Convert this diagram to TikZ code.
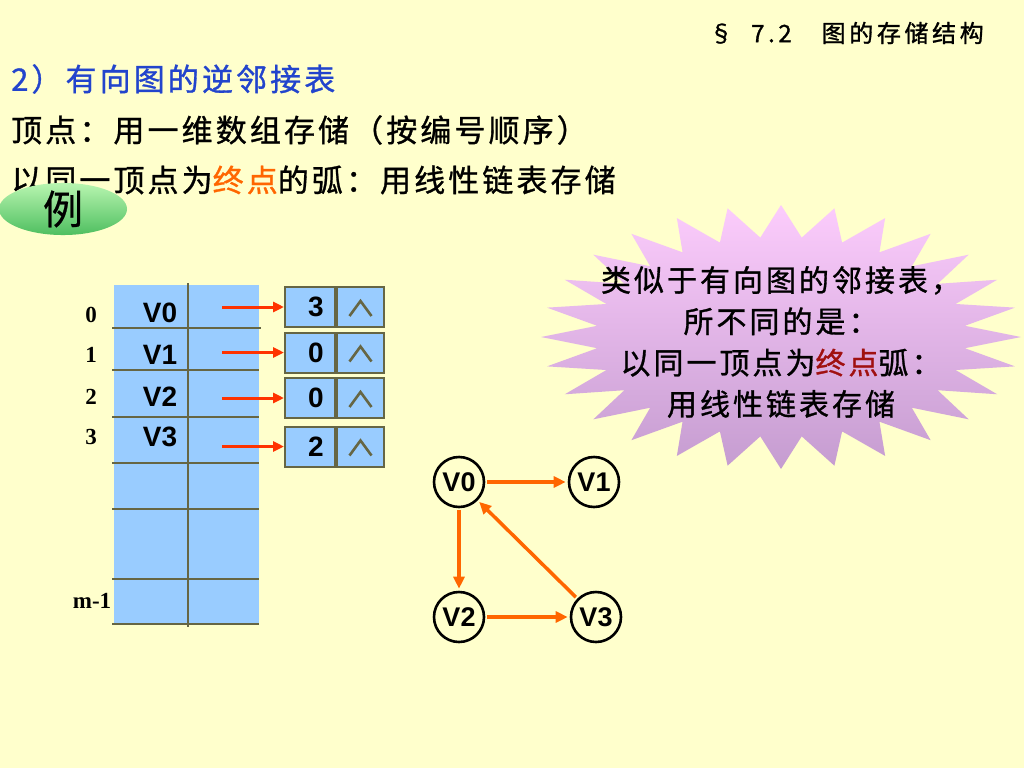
\documentclass[tikz,border=0pt]{standalone}
\usepackage{fontspec}
\setmainfont{Liberation Sans}
\newfontfamily\cjk[LetterSpace=10,FakeBold=1]{Noto Sans CJK SC}
\newfontfamily\cjkh[LetterSpace=15,FakeBold=1.2]{Noto Sans CJK SC}
\newfontfamily\cjkn[FakeBold=0.6]{Noto Sans CJK SC}
\newfontfamily\serifb{Liberation Serif}
\newfontfamily\vfont{Liberation Sans}
\usetikzlibrary{arrows.meta,shapes.geometric}
\definecolor{bg}{HTML}{FFFFCC}
\definecolor{cellblue}{HTML}{99CCFF}
\definecolor{olive}{HTML}{666644}
\definecolor{redA}{HTML}{FF3300}
\definecolor{orangeE}{HTML}{FF6600}
\definecolor{headblue}{HTML}{2244CC}
\definecolor{darkred}{HTML}{A01010}
\definecolor{pinkT}{HTML}{FCCCFC}
\definecolor{purpB}{HTML}{C59CD0}
\definecolor{greenT}{HTML}{B8F5B0}
\definecolor{greenB}{HTML}{4FBF60}
\begin{document}
\begin{tikzpicture}[x=1pt,y=-1pt,
  tline/.style={draw=olive,line width=2pt},
  cellbox/.style={draw=olive,line width=2pt,fill=cellblue,inner sep=0pt,minimum height=40pt},
  vtxt/.style={font=\vfont\bfseries\fontsize{28}{30}\selectfont},
  rowlab/.style={font=\serifb\bfseries\fontsize{23}{25}\selectfont},
  ra/.style={draw=redA,line width=3pt,-{Triangle[length=11pt,width=10pt]}},
  gv/.style={circle,draw=black,line width=2.6pt,minimum size=50pt,inner sep=0pt,font=\vfont\bfseries\fontsize{27}{28}\selectfont},
  ge/.style={draw=orangeE,line width=3.5pt,-{Triangle[length=12pt,width=11pt]},shorten <=2pt,shorten >=2pt},
  big/.style={font=\cjk\fontsize{31}{36}\selectfont},
  nilmark/.style={draw=olive,line width=2.6pt,line join=miter}
]
\useasboundingbox (0,0) rectangle (1024,768);
\fill[bg] (0,0) rectangle (1024,768);

% header
\node[anchor=west,font=\cjkh\fontsize{24}{28}\selectfont,inner sep=0pt] (hdr) at (709,33) {§\hspace{18pt}7.2\hspace{30pt}图的存储结构};
\node[anchor=west,big,text=headblue,inner sep=0pt] (l1) at (11,79) {2）有向图的逆邻接表};
\node[anchor=west,big,inner sep=0pt] (l2) at (11,130) {顶点：用一维数组存储（按编号顺序）};
\node[anchor=west,big,inner sep=0pt] (l3) at (11,180) {以同一顶点为\textcolor{orangeE}{终点}的弧：用线性链表存储};

% example ellipse
\node[ellipse,minimum width=128pt,minimum height=44pt,inner sep=0pt,
      top color=greenT,bottom color=greenB,
      font=\cjkn\fontsize{40}{42}\selectfont] (ex) at (63,209) {\raisebox{-3pt}{例}};

% table
\fill[cellblue] (114,285) rectangle (259,623);
\draw[tline] (112,328) -- (261,328);
\foreach \yy in {370,417,463,509,579,624}{\draw[tline] (112,\yy) -- (259,\yy);}
\draw[tline] (188,283) -- (188,627);

\node[vtxt] (t0) at (160,313) {V0};
\node[vtxt] (t1) at (160,355) {V1};
\node[vtxt] (t2) at (160,397) {V2};
\node[vtxt] (t3) at (160,437) {V3};

\node[rowlab] (r0) at (91,315) {0};
\node[rowlab] (r1) at (91,355) {1};
\node[rowlab] (r2) at (91,397) {2};
\node[rowlab] (r3) at (91,437) {3};
\node[rowlab] (rm) at (92,601) {m-1};

% linked nodes
\foreach \k/\yc/\num in {0/307/3,1/352.5/0,2/398/0,3/446.5/2}{
  \node[cellbox,minimum width=50pt,anchor=east,vtxt,text depth=0pt] (nd\k) at (336,\yc) {\hspace*{12pt}\hfill\num\hspace{4pt}};
  \node[cellbox,minimum width=47pt,anchor=west] (np\k) at (336,\yc) {};
  \draw[nilmark] ([shift={(-11,9)}]np\k.center) -- ([shift={(0,-6)}]np\k.center) -- ([shift={(11,9)}]np\k.center);
  \coordinate (a\k) at (222,\yc);
  \draw[ra] (a\k) -- (nd\k.west);
}

% starburst
\path[top color=pinkT,bottom color=purpB]
  (781,205) \foreach \i in {1,...,55}{
    -- ({781+(212.5+27.5*cos(\i*180))*cos(\i*45/7+90)},{337-(116+16*cos(\i*180))*sin(\i*45/7+90)})
  } -- cycle;
\node[align=center,font=\cjk\fontsize{30}{41.3}\selectfont] (sb) at (781,342)
  {类似于有向图的邻接表，\\所不同的是：\\以同一顶点为\textcolor{darkred}{终点}弧：\\用线性链表存储};

% graph
\node[gv] (g0) at (459,482) {V0};
\node[gv] (g1) at (594,482) {V1};
\node[gv] (g2) at (459,617) {V2};
\node[gv] (g3) at (596,617) {V3};
\draw[ge] (g0) -- (g1);
\draw[ge] (g0) -- (g2);
\draw[ge] (g2) -- (g3);
\draw[ge] (g3) -- (g0);
\end{tikzpicture}
\end{document}
